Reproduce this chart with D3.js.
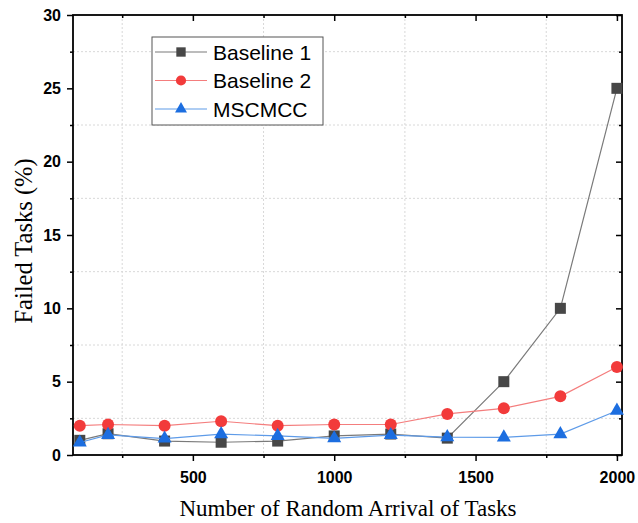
<!DOCTYPE html>
<meta charset="utf-8">
<script src="https://cdn.jsdelivr.net/npm/d3@7/dist/d3.min.js"></script>
<style>
body { margin: 0; background: #fff; }
.tick text { font-family: Arial, "Liberation Sans", sans-serif; font-weight: bold; font-size: 16px; fill: #000; }
.grid line { stroke: #d8d8d8; stroke-dasharray: 2,2; stroke-width: 1px; }
</style>
<body>
<script>

var xs = [100, 200, 400, 600, 800, 1000, 1200, 1400, 1600, 1800, 2000];
var baseline1 = [1.0, 1.45, 0.95, 0.87, 0.95, 1.3, 1.43, 1.15, 5.0, 10.0, 25.0];
var baseline2 = [2.0, 2.08, 2.0, 2.3, 2.0, 2.08, 2.08, 2.8, 3.18, 4.0, 6.0];
var mscmcc = [0.85, 1.37, 1.12, 1.42, 1.3, 1.14, 1.36, 1.22, 1.2, 1.42, 3.02];
var xTicks = [500, 1000, 1500, 2000];
var yTicks = [0, 5, 10, 15, 20, 25, 30];

var series = [
  {name: "Baseline 1", values: baseline1, line: "#7a7a7a", fill: "#474747", shape: "square"},
  {name: "Baseline 2", values: baseline2, line: "#f47d7d", fill: "#f23b3b", shape: "circle"},
  {name: "MSCMCC", values: mscmcc, line: "#5e9be8", fill: "#1c6ee0", shape: "triangle"}
];

var width = 638, height = 523;
var pLeft = 73, pRight = 622, pTop = 15, pBottom = 455;

var svg = d3.select("body").append("svg")
    .attr("width", width)
    .attr("height", height);

var x = d3.scaleLinear().domain([76, 2018]).range([pLeft, pRight]);
var y = d3.scaleLinear().domain([0, 30]).range([pBottom, pTop]);

var xMinor = [250, 750, 1250, 1750];
var yMinor = [2.5, 7.5, 12.5, 17.5, 22.5, 27.5];

// dotted grid at minor positions
var grid = svg.append("g").attr("class", "grid");
grid.selectAll(".gx").data(xMinor).enter().append("line")
    .attr("x1", d => x(d)).attr("x2", d => x(d))
    .attr("y1", pTop).attr("y2", pBottom);
grid.selectAll(".gy").data(yMinor).enter().append("line")
    .attr("x1", pLeft).attr("x2", pRight)
    .attr("y1", d => y(d)).attr("y2", d => y(d));

// axes
svg.append("g")
    .attr("transform", "translate(0," + pBottom + ")")
    .call(d3.axisBottom(x).tickValues(xTicks).tickSize(6).tickPadding(11).tickFormat(d3.format("d")));
svg.append("g")
    .attr("transform", "translate(0," + pBottom + ")")
    .call(d3.axisBottom(x).tickValues(xMinor).tickSize(3).tickFormat(""));

svg.append("g")
    .attr("transform", "translate(" + pLeft + ",0)")
    .call(d3.axisLeft(y).tickValues(yTicks).tickSize(6).tickPadding(6));
svg.append("g")
    .attr("transform", "translate(" + pLeft + ",0)")
    .call(d3.axisLeft(y).tickValues(yMinor).tickSize(3).tickFormat(""));

// mirrored inner ticks on top and right
svg.append("g")
    .attr("transform", "translate(0," + pTop + ")")
    .call(d3.axisTop(x).tickValues(xTicks).tickSize(-6).tickFormat(""));
svg.append("g")
    .attr("transform", "translate(0," + pTop + ")")
    .call(d3.axisTop(x).tickValues(xMinor).tickSize(-3).tickFormat(""));
svg.append("g")
    .attr("transform", "translate(" + pRight + ",0)")
    .call(d3.axisRight(y).tickValues(yTicks).tickSize(-6).tickFormat(""));
svg.append("g")
    .attr("transform", "translate(" + pRight + ",0)")
    .call(d3.axisRight(y).tickValues(yMinor).tickSize(-3).tickFormat(""));

svg.selectAll(".domain").remove();
svg.selectAll(".tick line").attr("stroke", "#000").attr("stroke-width", 1.5);

svg.append("rect")
    .attr("x", pLeft).attr("y", pTop)
    .attr("width", pRight - pLeft).attr("height", pBottom - pTop)
    .attr("fill", "none").attr("stroke", "#000").attr("stroke-width", 1.8);

// lines and markers
var line = d3.line().x(d => x(d[0])).y(d => y(d[1]));

function marker(g, shape, color, k) {
  if (shape == "square") {
    g.append("rect").attr("x", -5.5 * k).attr("y", -5.5 * k).attr("width", 11 * k).attr("height", 11 * k).attr("fill", color);
  } else if (shape == "circle") {
    g.append("circle").attr("r", 6 * k).attr("fill", color);
  } else {
    g.append("path").attr("d", d3.symbol().type(d3.symbolTriangle).size(85 * k * k)()).attr("fill", color);
  }
}

series.forEach(function(s) {
  var pts = xs.map((v, i) => [v, s.values[i]]);
  svg.append("path")
      .datum(pts)
      .attr("d", line)
      .attr("fill", "none")
      .attr("stroke", s.line)
      .attr("stroke-width", 1.2);
  pts.forEach(function(p) {
    var g = svg.append("g").attr("transform", "translate(" + x(p[0]) + "," + y(p[1]) + ")");
    marker(g, s.shape, s.fill, 1);
  });
});

// legend
var lg = svg.append("g");
lg.append("rect")
    .attr("x", 152).attr("y", 37).attr("width", 171).attr("height", 88)
    .attr("fill", "#fff").attr("stroke", "#555").attr("stroke-width", 1);
series.forEach(function(s, i) {
  var ly = 52 + i * 28.5;
  lg.append("line").attr("x1", 155).attr("x2", 207).attr("y1", ly).attr("y2", ly)
      .attr("stroke", s.line).attr("stroke-width", 1.2);
  var g = lg.append("g").attr("transform", "translate(181," + ly + ")");
  marker(g, s.shape, s.fill, 0.85);
  lg.append("text").attr("x", 213).attr("y", ly).attr("dy", "0.36em")
      .style("font-family", "Arial, 'Liberation Sans', sans-serif")
      .style("font-size", "21px")
      .text(s.name);
});

// axis titles
svg.append("text")
    .attr("x", 348).attr("y", 516)
    .attr("text-anchor", "middle")
    .style("font-family", "'Times New Roman', 'Liberation Serif', serif")
    .style("font-size", "23px")
    .text("Number of Random Arrival of Tasks");
svg.append("text")
    .attr("transform", "translate(32,241) rotate(-90)")
    .attr("text-anchor", "middle")
    .style("font-family", "'Times New Roman', 'Liberation Serif', serif")
    .style("font-size", "24.5px")
    .text("Failed Tasks (%)");

</script>
</body>
